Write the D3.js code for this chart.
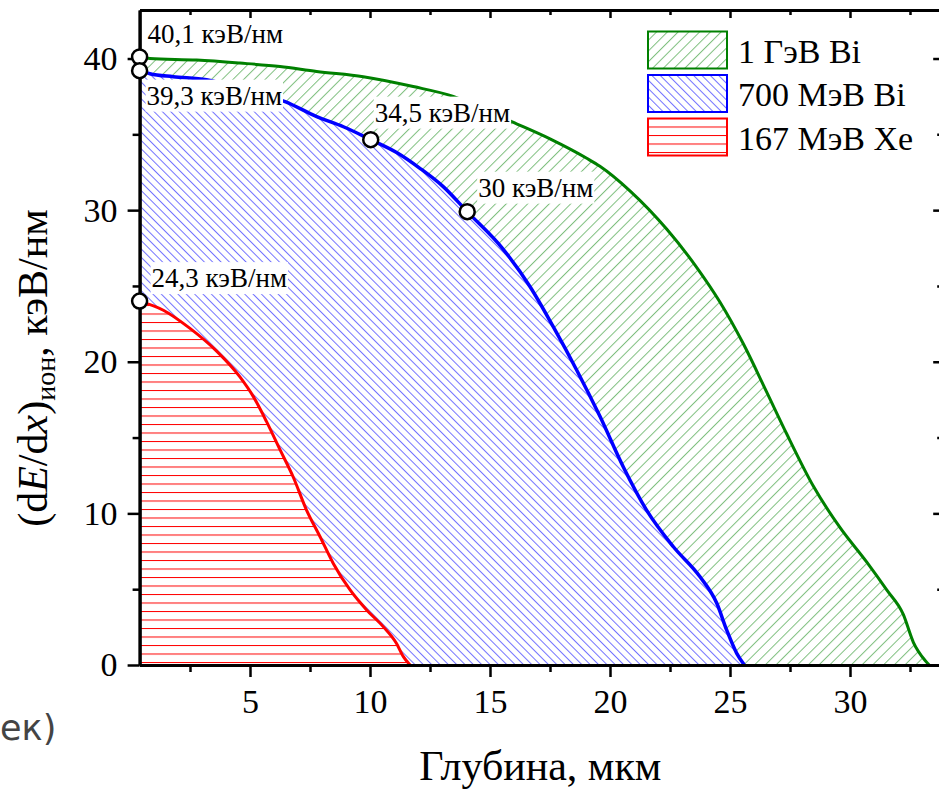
<!DOCTYPE html>
<html>
<head>
<meta charset="utf-8">
<script src="https://cdn.jsdelivr.net/npm/d3@7"></script>
<style>
  body { margin: 0; background: #fff; }
  svg { display: block; }
</style>
</head>
<body>
<script>
// Setup variables
const width = 939;
const height = 789;
const xStart = 139.6;
const xEnd = 941.2;
const yTop = 10;
const yBottom = 665;
const serif = "'Liberation Serif', 'Times New Roman', serif";

// Data (depth in um, dE/dx in keV/nm)
const greenX = [0.4, 0.83, 2.78, 4.58, 6.25, 7.78, 9.72, 11.8, 13.47, 14.7, 15.9, 17.5, 19.03, 19.58, 20.83, 22.36, 23.61, 24.58, 25.55, 26.53, 27.36, 28.47, 29.58, 30.7, 31.53, 32.22, 32.64, 33.13, 33.3];
const greenY = [40.1, 40.0, 39.9, 39.7, 39.47, 39.14, 38.8, 38.15, 37.5, 36.7, 35.84, 34.7, 33.42, 32.89, 31.27, 28.75, 26.23, 23.94, 21.2, 18.0, 15.25, 11.8, 9.07, 6.78, 4.95, 3.34, 1.5, 0.3, 0];

const blueX = [0.4, 0.83, 1.8, 3.19, 4.8, 6.46, 7.78, 8.89, 10.03, 11.11, 12.08, 13.05, 14.05, 15.56, 16.67, 17.64, 18.61, 19.58, 20.55, 21.53, 22.64, 23.75, 24.45, 24.86, 25.28, 25.6];
const blueY = [39.2, 39.0, 38.8, 38.6, 37.9, 37.16, 36.17, 35.5, 34.65, 33.8, 32.76, 31.55, 29.9, 27.4, 24.95, 22.3, 19.46, 16.4, 13.08, 10.2, 7.8, 5.82, 4.07, 2.31, 0.77, 0];

const redX = [0.4, 1.39, 2.5, 3.61, 4.58, 5.14, 5.69, 6.25, 6.8, 7.36, 7.92, 8.47, 9.17, 9.86, 10.55, 11.1, 11.39, 11.67];
const redY = [24.0, 23.4, 22.2, 20.7, 19.0, 17.7, 16.05, 14.2, 12.4, 10.2, 8.46, 6.7, 4.95, 3.63, 2.53, 1.43, 0.55, 0];

// Marked points and their labels
const markX = [0.4, 0.4, 10.03, 14.05, 0.4];
const markY = [40.1, 39.2, 34.65, 29.9, 24.0];
const markText = ["40,1 кэВ/нм", "39,3 кэВ/нм", "34,5 кэВ/нм", "30 кэВ/нм", "24,3 кэВ/нм"];

// Legend and ticks
const seriesNames = ["1 ГэВ Bi", "700 МэВ Bi", "167 МэВ Xe"];
const seriesColors = ["#008000", "#0000ff", "#ff0000"];
const xMajor = [5, 10, 15, 20, 25, 30];
const xMinor = [2.5, 7.5, 12.5, 17.5, 22.5, 27.5, 32.5];
const yMajor = [0, 10, 20, 30, 40];
const yMinor = [5, 15, 25, 35];

// Create the svg
const svg = d3.select("body")
    .append("svg")
    .attr("width", width)
    .attr("height", height);

const x = d3.scaleLinear().domain([0.4, 33.8]).range([xStart, xEnd]);
const y = d3.scaleLinear().domain([0, 43.2]).range([yBottom, yTop]);

// Hatch patterns (white background + lines)
const defs = svg.append("defs");

const hatch = (id, spacing, angle, color, opacity) => {
    const p = defs.append("pattern")
        .attr("id", id)
        .attr("patternUnits", "userSpaceOnUse")
        .attr("width", spacing)
        .attr("height", spacing)
        .attr("patternTransform", `rotate(${angle})`);
    p.append("rect").attr("width", spacing).attr("height", spacing).attr("fill", "#fff");
    p.append("line")
        .attr("x1", 0.5).attr("x2", 0.5)
        .attr("y1", 0).attr("y2", spacing)
        .attr("stroke", color)
        .attr("stroke-opacity", opacity)
        .attr("stroke-width", 1);
};
hatch("hatchGreen", 7.6, 45, "#008000", 0.5);
hatch("hatchBlue", 5.9, -45, "#0000ff", 0.55);

const redPat = defs.append("pattern")
    .attr("id", "hatchRed")
    .attr("patternUnits", "userSpaceOnUse")
    .attr("y", 662)
    .attr("width", 20)
    .attr("height", 8.5);
redPat.append("rect").attr("width", 20).attr("height", 8.5).attr("fill", "#fff");
redPat.append("line")
    .attr("x1", 0).attr("x2", 20)
    .attr("y1", 0.5).attr("y2", 0.5)
    .attr("stroke", "#ff0000")
    .attr("stroke-width", 1);

defs.append("clipPath").attr("id", "plotClip")
    .append("rect")
    .attr("x", xStart).attr("y", yTop)
    .attr("width", xEnd - xStart).attr("height", yBottom - yTop);

// Build each series as a list of points
const series = [
    { xs: greenX, ys: greenY, fill: "url(#hatchGreen)", color: seriesColors[0], w: 3 },
    { xs: blueX, ys: blueY, fill: "url(#hatchBlue)", color: seriesColors[1], w: 3.5 },
    { xs: redX, ys: redY, fill: "url(#hatchRed)", color: seriesColors[2], w: 3 }
].map(s => ({ ...s, pts: s.xs.map((v, i) => [v, s.ys[i]]) }));

const area = d3.area().curve(d3.curveMonotoneX).x(d => x(d[0])).y0(y(0)).y1(d => y(d[1]));
const line = d3.line().curve(d3.curveMonotoneX).x(d => x(d[0])).y(d => y(d[1]));

const plot = svg.append("g").attr("clip-path", "url(#plotClip)");

// Areas first (green, blue, red on top), then lines
plot.selectAll("path.area")
    .data(series)
    .join("path")
    .attr("class", "area")
    .attr("d", d => area(d.pts))
    .attr("fill", d => d.fill);

plot.selectAll("path.curve")
    .data(series)
    .join("path")
    .attr("class", "curve")
    .attr("d", d => line(d.pts))
    .attr("fill", "none")
    .attr("stroke", d => d.color)
    .attr("stroke-width", d => d.w)
    .attr("stroke-linejoin", "round");

// Axes
const xAxisMajor = d3.axisBottom(x).tickValues(xMajor).tickSize(12).tickSizeOuter(0).tickPadding(12);
const xAxisMinor = d3.axisBottom(x).tickValues(xMinor).tickSize(7).tickSizeOuter(0).tickFormat("");
const xTopMajor = d3.axisTop(x).tickValues(xMajor).tickSize(-8).tickSizeOuter(0).tickFormat("");
const xTopMinor = d3.axisTop(x).tickValues(xMinor).tickSize(-5).tickSizeOuter(0).tickFormat("");
const yAxisMajor = d3.axisLeft(y).tickValues(yMajor).tickSize(12).tickSizeOuter(0).tickPadding(10);
const yAxisMinor = d3.axisLeft(y).tickValues(yMinor).tickSize(7).tickSizeOuter(0).tickFormat("");
const yRightMajor = d3.axisRight(y).tickValues(yMajor).tickSize(-8).tickSizeOuter(0).tickFormat("");
const yRightMinor = d3.axisRight(y).tickValues(yMinor).tickSize(-4).tickSizeOuter(0).tickFormat("");

const axes = svg.append("g").attr("class", "axes");
axes.append("g").attr("transform", `translate(0,${yBottom})`).call(xAxisMajor);
axes.append("g").attr("transform", `translate(0,${yBottom})`).call(xAxisMinor);
axes.append("g").attr("transform", `translate(0,${yTop})`).call(xTopMajor);
axes.append("g").attr("transform", `translate(0,${yTop})`).call(xTopMinor);
axes.append("g").attr("transform", `translate(${xStart},0)`).call(yAxisMajor);
axes.append("g").attr("transform", `translate(${xStart},0)`).call(yAxisMinor);
axes.append("g").attr("transform", `translate(${xEnd},0)`).call(yRightMajor);
axes.append("g").attr("transform", `translate(${xEnd},0)`).call(yRightMinor);

axes.selectAll("g").attr("font-family", serif);
axes.selectAll(".domain").attr("stroke", "#000").attr("stroke-width", 3);
axes.selectAll(".tick line").attr("stroke", "#000").attr("stroke-width", 2.5);
axes.selectAll(".tick text")
    .attr("font-family", serif)
    .attr("font-size", 34)
    .attr("fill", "#000");

// Point labels with white boxes behind them
const labelOffsets = [[8, -14], [7, 34], [4, -18], [11, -15], [12, -14]];
const labels = svg.append("g");
markText.forEach((t, i) => {
    const g = labels.append("g");
    const txt = g.append("text")
        .attr("x", x(markX[i]) + labelOffsets[i][0])
        .attr("y", y(markY[i]) + labelOffsets[i][1])
        .attr("font-family", serif)
        .attr("font-size", 27)
        .text(t);
    const b = txt.node().getBBox();
    g.insert("rect", "text")
        .attr("x", b.x - 1).attr("y", b.y - 1)
        .attr("width", b.width + 2).attr("height", b.height + 2)
        .attr("fill", "#fff");
});

// Circles
svg.append("g")
    .selectAll("circle")
    .data(markX.map((v, i) => [v, markY[i]]))
    .join("circle")
    .attr("cx", d => x(d[0]))
    .attr("cy", d => y(d[1]))
    .attr("r", 7.5)
    .attr("fill", "#fff")
    .attr("stroke", "#000")
    .attr("stroke-width", 2.5);

// Legend
const legend = svg.append("g");
const legendFills = ["url(#hatchGreen)", "url(#hatchBlue)", "url(#hatchRed)"];
seriesNames.forEach((name, i) => {
    const top = 31.5 + i * 43.5;
    legend.append("rect")
        .attr("x", 648).attr("y", top)
        .attr("width", 79).attr("height", 37)
        .attr("fill", legendFills[i])
        .attr("stroke", seriesColors[i])
        .attr("stroke-width", 2);
    legend.append("text")
        .attr("x", 738).attr("y", top + 31)
        .attr("font-family", serif)
        .attr("font-size", 34)
        .text(name);
});

// Axis titles
svg.append("text")
    .attr("x", (xStart + xEnd) / 2)
    .attr("y", 780)
    .attr("text-anchor", "middle")
    .attr("font-family", serif)
    .attr("font-size", 42)
    .text("Глубина, мкм");

const yTitle = svg.append("text")
    .attr("transform", "translate(47,368) rotate(-90)")
    .attr("text-anchor", "middle")
    .attr("font-family", serif)
    .attr("font-size", 42);
yTitle.append("tspan").text("(d");
yTitle.append("tspan").attr("font-style", "italic").text("E");
yTitle.append("tspan").text("/d");
yTitle.append("tspan").attr("font-style", "italic").text("x");
yTitle.append("tspan").text(")");
yTitle.append("tspan").attr("font-size", 28).attr("dy", 8).text("ион");
yTitle.append("tspan").attr("dy", -8).text(", кэВ/нм");

// Fragment of neighbouring text at the bottom left
svg.append("text")
    .attr("x", 0)
    .attr("y", 740)
    .attr("font-family", "'DejaVu Sans', sans-serif")
    .attr("font-size", 35)
    .attr("fill", "#444")
    .text("ек)");
</script>
</body>
</html>
